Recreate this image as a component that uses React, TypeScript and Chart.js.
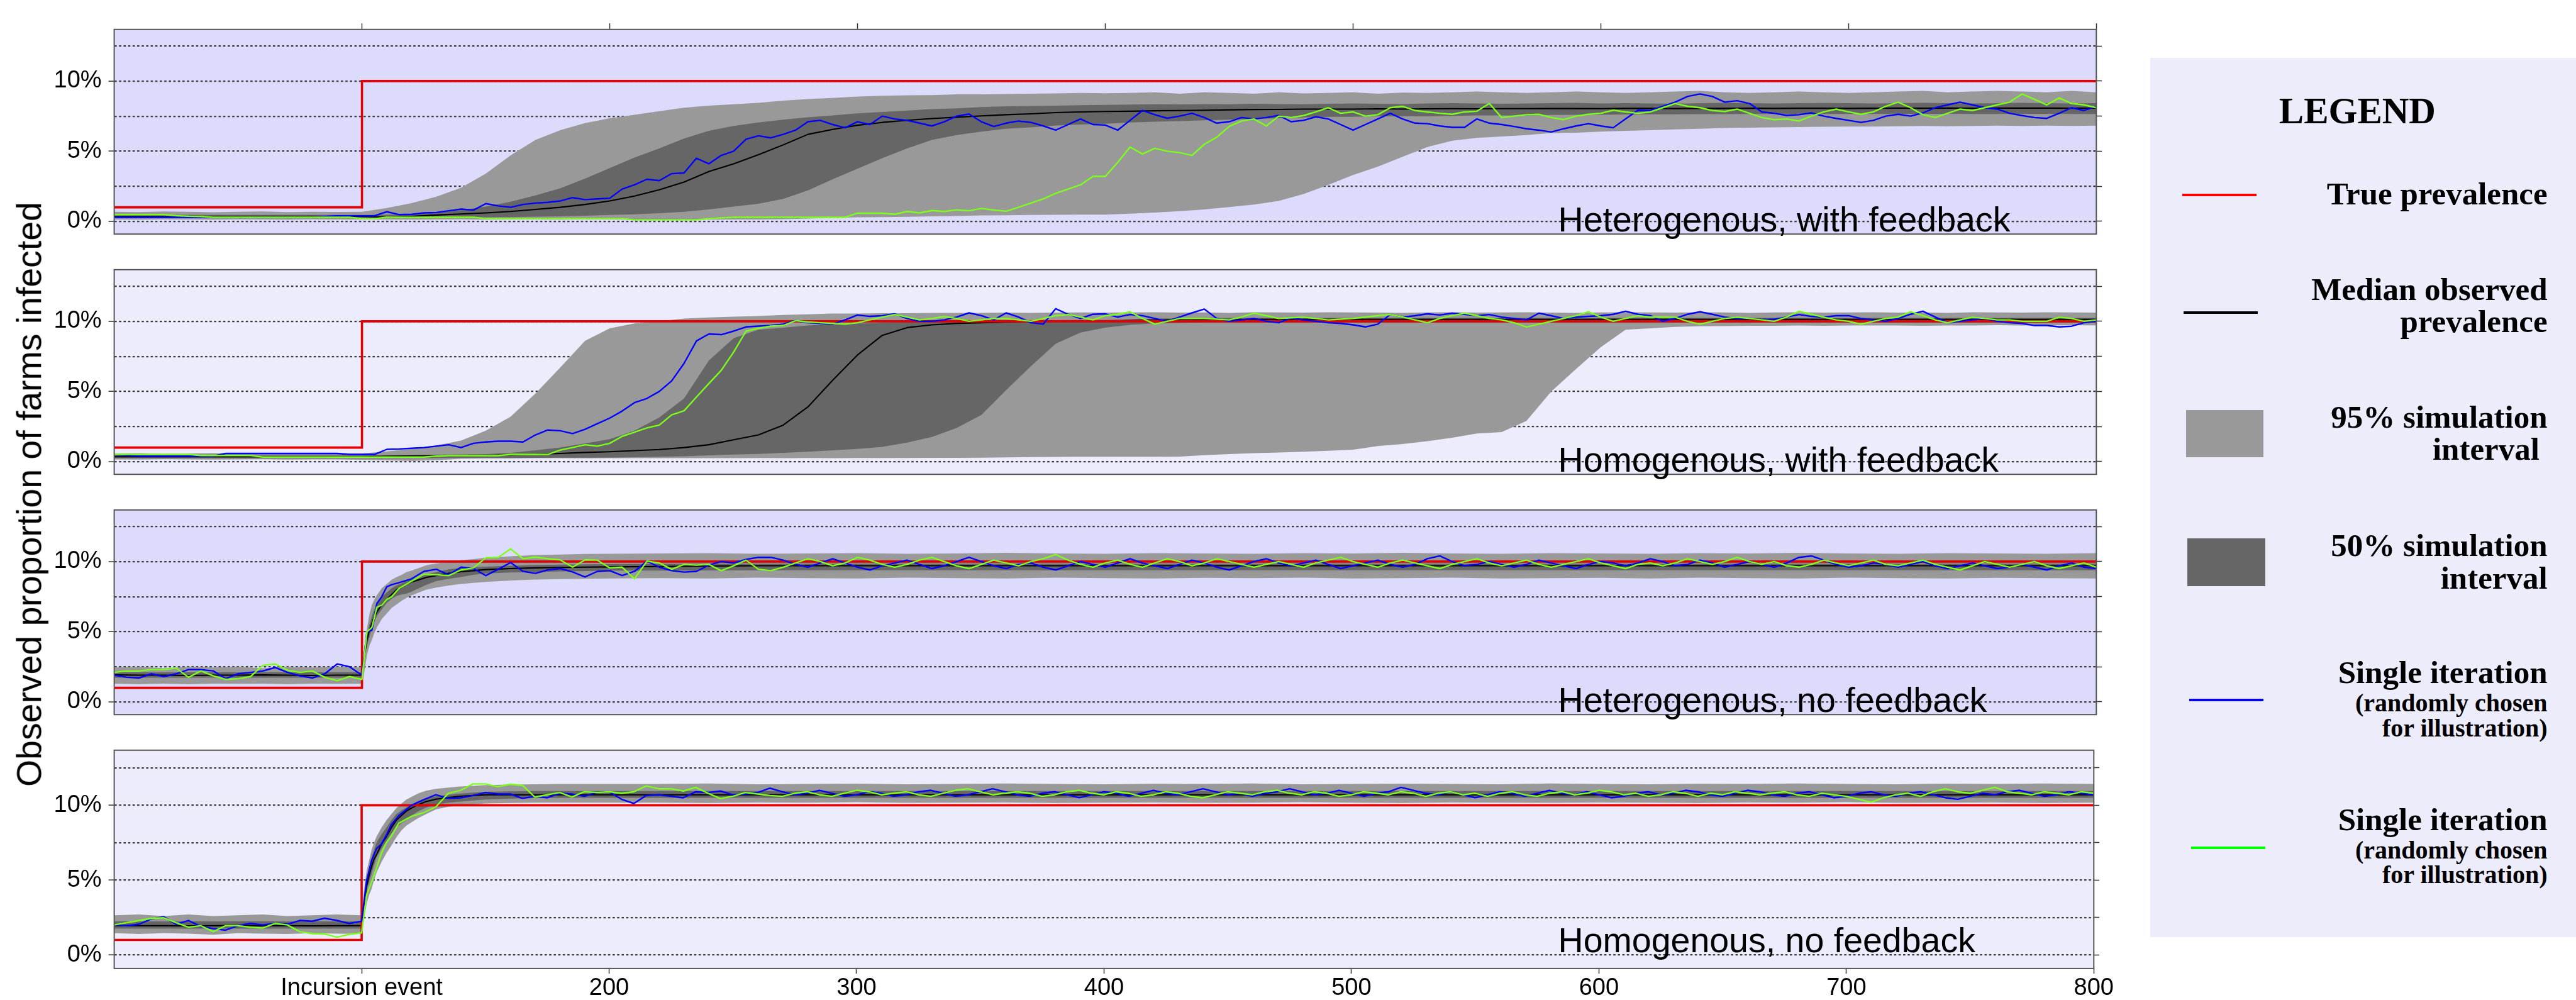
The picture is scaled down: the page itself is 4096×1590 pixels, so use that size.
import React, { useEffect, useRef } from 'react';
import { Chart, registerables } from 'chart.js';

Chart.register(...registerables);

// ---------------- data ----------------
const X_TICKS = [100, 200, 300, 400, 500, 600, 700, 800];
const Y_TICKS = [0, 2.5, 5, 7.5, 10, 12.5];
const X_MIN = 0;
const X_MAX = 800;
const Y_MIN = -0.91;
const Y_MAX = 13.68;
const TRUE_X = [0, 100, 100, 800];
const TRUE_Y = [1, 1, 10, 10];
const PANEL_TITLES = [
  'Heterogenous, with feedback',
  'Homogenous, with feedback',
  'Heterogenous, no feedback',
  'Homogenous, no feedback',
];

// band grid for panels 1-2
const GRID_A = [0, 10, 20, 30, 40, 50, 60, 70, 80, 90, 100,
  110, 120, 130, 140, 150, 160, 170, 180, 190, 200,
  210, 220, 230, 240, 250, 260, 270, 280, 290, 300,
  310, 320, 330, 340, 350, 360, 370, 380, 390, 400,
  410, 420, 430, 440, 450, 460, 470, 480, 490, 500,
  510, 520, 530, 540, 550, 560, 570, 580, 590, 600,
  610, 620, 630, 640, 650, 660, 670, 680, 690, 700,
  710, 720, 730, 740, 750, 760, 770, 780, 790, 800];

// line grid for panels 1-2
const LINE_X_A = [0, 5, 10, 15, 20, 25, 30, 35, 40, 45,
  50, 55, 60, 65, 70, 75, 80, 85, 90, 95,
  100, 105, 110, 115, 120, 125, 130, 135, 140, 145,
  150, 155, 160, 165, 170, 175, 180, 185, 190, 195,
  200, 205, 210, 215, 220, 225, 230, 235, 240, 245,
  250, 255, 260, 265, 270, 275, 280, 285, 290, 295,
  300, 305, 310, 315, 320, 325, 330, 335, 340, 345,
  350, 355, 360, 365, 370, 375, 380, 385, 390, 395,
  400, 405, 410, 415, 420, 425, 430, 435, 440, 445,
  450, 455, 460, 465, 470, 475, 480, 485, 490, 495,
  500, 505, 510, 515, 520, 525, 530, 535, 540, 545,
  550, 555, 560, 565, 570, 575, 580, 585, 590, 595,
  600, 605, 610, 615, 620, 625, 630, 635, 640, 645,
  650, 655, 660, 665, 670, 675, 680, 685, 690, 695,
  700, 705, 710, 715, 720, 725, 730, 735, 740, 745,
  750, 755, 760, 765, 770, 775, 780, 785, 790, 795,
  800];

// band grid for panels 3-4
const GRID_B = [0, 10, 20, 30, 40, 50, 60, 70, 80, 90, 100,
  101, 102, 103, 104, 105, 106, 108, 110, 112, 114, 116, 118, 120,
  123, 126, 130, 135, 140, 145, 150, 160, 170, 180, 190, 200,
  220, 240, 260, 280, 300, 320, 340, 360, 380, 400,
  420, 440, 460, 480, 500, 520, 540, 560, 580, 600,
  620, 640, 660, 680, 700, 720, 740, 760, 780, 800];

// line grid for panels 3-4
const LINE_X_B = [0, 5, 10, 15, 20, 25, 30, 35, 40, 45, 50, 55, 60, 65, 70, 75, 80, 85, 90, 95, 100,
  102, 104, 106, 108, 110, 112,
  115, 120, 125, 130, 135, 140, 145, 150, 155, 160,
  165, 170, 175, 180, 185, 190, 195, 200, 205, 210,
  215, 220, 225, 230, 235, 240, 245, 250, 255, 260,
  265, 270, 275, 280, 285, 290, 295, 300, 305, 310,
  315, 320, 325, 330, 335, 340, 345, 350, 355, 360,
  365, 370, 375, 380, 385, 390, 395, 400, 405, 410,
  415, 420, 425, 430, 435, 440, 445, 450, 455, 460,
  465, 470, 475, 480, 485, 490, 495, 500, 505, 510,
  515, 520, 525, 530, 535, 540, 545, 550, 555, 560,
  565, 570, 575, 580, 585, 590, 595, 600, 605, 610,
  615, 620, 625, 630, 635, 640, 645, 650, 655, 660,
  665, 670, 675, 680, 685, 690, 695, 700, 705, 710,
  715, 720, 725, 730, 735, 740, 745, 750, 755, 760,
  765, 770, 775, 780, 785, 790, 795, 800];

// ---- Panel 1: Heterogenous, with feedback ----
const P1_LO95 = [0.13, 0.12, 0.14, 0.13, 0.12, 0.14, 0.13, 0.12, 0.14, 0.13, 0.13,
  0.13, 0.12, 0.13, 0.14, 0.12, 0.13, 0.13, 0.12, 0.14, 0.13,
  0.12, 0.13, 0.14, 0.12, 0.13, 0.13, 0.15, 0.2, 0.25, 0.29,
  0.3, 0.32, 0.35, 0.38, 0.42, 0.43, 0.45, 0.47, 0.48, 0.48,
  0.55, 0.62, 0.72, 0.85, 1.02, 1.2, 1.45, 1.95, 2.6, 3.3,
  3.9, 4.6, 5.3, 5.75, 5.95, 6.05, 6.15, 6.3, 6.32, 6.4,
  6.45, 6.5, 6.55, 6.6, 6.65, 6.68, 6.7, 6.72, 6.74, 6.75,
  6.76, 6.78, 6.8, 6.78, 6.8, 6.82, 6.8, 6.82, 6.8, 6.82];
const P1_HI95 = [0.68, 0.66, 0.7, 0.68, 0.65, 0.68, 0.7, 0.66, 0.68, 0.67, 0.68,
  0.95, 1.3, 1.75, 2.4, 3.4, 4.7, 5.8, 6.5, 7.0, 7.35,
  7.6, 7.85, 8.1, 8.25, 8.35, 8.45, 8.6, 8.72, 8.8, 8.9,
  8.95, 8.98, 9.0, 9.05, 9.05, 9.08, 9.1, 9.12, 9.15, 9.13,
  9.15, 9.2, 9.1, 9.2, 9.15, 9.1, 9.2, 9.12, 9.15, 9.2,
  9.1, 9.18, 9.15, 9.2, 9.25, 9.2, 9.15, 9.2, 9.25, 9.2,
  9.15, 9.2, 9.25, 9.3, 9.2, 9.15, 9.2, 9.25, 9.2, 9.15,
  9.2, 9.25, 9.3, 9.2, 9.25, 9.3, 9.25, 9.2, 9.3, 9.2];
const P1_LO50 = [0.24, 0.24, 0.24, 0.24, 0.24, 0.24, 0.24, 0.24, 0.24, 0.24, 0.24,
  0.25, 0.26, 0.27, 0.28, 0.29, 0.3, 0.33, 0.36, 0.4, 0.45,
  0.5, 0.58, 0.68, 0.85, 1.05, 1.25, 1.6, 2.2, 3.0, 3.75,
  4.5, 5.2, 5.8, 6.15, 6.4, 6.6, 6.7, 6.83, 6.9, 6.96,
  7.05, 7.1, 7.15, 7.2, 7.25, 7.3, 7.35, 7.4, 7.45, 7.45,
  7.5, 7.5, 7.5, 7.52, 7.55, 7.55, 7.55, 7.58, 7.6, 7.6,
  7.62, 7.63, 7.63, 7.64, 7.64, 7.65, 7.65, 7.65, 7.65, 7.65,
  7.65, 7.66, 7.66, 7.66, 7.65, 7.65, 7.66, 7.66, 7.65, 7.65];
const P1_HI50 = [0.45, 0.45, 0.45, 0.45, 0.45, 0.45, 0.45, 0.45, 0.45, 0.45, 0.45,
  0.47, 0.5, 0.6, 0.8, 1.05, 1.4, 1.85, 2.35, 3.05, 3.8,
  4.55, 5.2, 5.9, 6.45, 6.8, 7.05, 7.25, 7.42, 7.55, 7.7,
  7.8, 7.9, 8.0, 8.05, 8.15, 8.2, 8.22, 8.25, 8.28, 8.3,
  8.32, 8.35, 8.33, 8.36, 8.35, 8.38, 8.36, 8.35, 8.38, 8.4,
  8.38, 8.36, 8.4, 8.42, 8.4, 8.38, 8.4, 8.42, 8.45, 8.4,
  8.42, 8.4, 8.38, 8.42, 8.45, 8.42, 8.4, 8.42, 8.44, 8.42,
  8.4, 8.42, 8.45, 8.42, 8.4, 8.43, 8.45, 8.42, 8.4, 8.42];
const P1_MED = [0.34, 0.34, 0.34, 0.34, 0.34, 0.34, 0.34, 0.34, 0.34, 0.34, 0.34,
  0.29, 0.35, 0.45, 0.52, 0.6, 0.7, 0.85, 1.0, 1.2, 1.45,
  1.8, 2.25, 2.8, 3.55, 4.1, 4.75, 5.45, 6.2, 6.55, 6.85,
  7.05, 7.2, 7.33, 7.42, 7.52, 7.6, 7.66, 7.75, 7.8, 7.83,
  7.85, 7.88, 7.9, 7.92, 7.95, 7.97, 7.98, 8.0, 8.0, 8.0,
  8.02, 8.0, 8.02, 8.03, 8.02, 8.03, 8.03, 8.04, 8.04, 8.03,
  8.05, 8.05, 8.04, 8.05, 8.05, 8.06, 8.05, 8.06, 8.06, 8.05,
  8.06, 8.07, 8.06, 8.07, 8.06, 8.07, 8.07, 8.07, 8.06, 8.07];
const P1_BLUE = [0.29, 0.29, 0.29, 0.29, 0.29, 0.29, 0.29, 0.29, 0.29, 0.29,
  0.29, 0.29, 0.29, 0.29, 0.29, 0.29, 0.29, 0.35, 0.39, 0.39,
  0.39, 0.39, 0.68, 0.48, 0.5, 0.6, 0.63, 0.75, 0.87, 0.8,
  1.26, 1.1, 1.0, 1.2, 1.3, 1.35, 1.45, 1.69, 1.55, 1.6,
  1.65, 2.3, 2.6, 3.0, 2.9, 3.4, 3.45, 4.5, 4.1, 4.7,
  5.0, 5.85, 6.1, 5.95, 6.2, 6.5, 7.1, 7.2, 6.9, 6.67,
  7.1, 6.9, 7.5, 7.3, 7.2, 7.0, 6.8, 7.1, 7.5, 7.65,
  7.1, 6.76, 7.0, 7.15, 7.05, 6.8, 6.5, 6.9, 7.3, 6.9,
  6.86, 6.5, 7.2, 7.9, 7.6, 7.35, 7.5, 7.7, 7.4, 7.0,
  7.1, 7.4, 7.3, 7.4, 7.55, 7.1, 7.2, 7.45, 7.3, 6.9,
  6.5, 6.9, 7.3, 7.7, 7.3, 7.0, 6.96, 6.8, 6.7, 6.7,
  7.3, 7.0, 6.9, 6.76, 6.6, 6.5, 6.37, 6.6, 6.8, 6.96,
  6.8, 6.67, 7.3, 7.92, 7.9, 8.2, 8.5, 8.9, 9.08, 8.9,
  8.5, 8.6, 8.4, 7.8, 7.7, 7.55, 7.6, 7.73, 7.5, 7.34,
  7.2, 7.05, 7.2, 7.5, 7.63, 7.5, 7.73, 8.1, 8.3, 8.5,
  8.3, 8.1, 8.0, 7.7, 7.54, 7.4, 7.34, 7.7, 8.1, 7.9,
  8.2];
const P1_GREEN = [0.48, 0.48, 0.48, 0.48, 0.48, 0.4, 0.36, 0.34, 0.29, 0.29,
  0.29, 0.29, 0.29, 0.29, 0.29, 0.29, 0.29, 0.29, 0.29, 0.29,
  0.19, 0.19, 0.29, 0.29, 0.29, 0.29, 0.29, 0.29, 0.29, 0.29,
  0.19, 0.19, 0.19, 0.19, 0.19, 0.19, 0.19, 0.19, 0.19, 0.19,
  0.19, 0.19, 0.1, 0.1, 0.1, 0.1, 0.1, 0.1, 0.19, 0.25,
  0.29, 0.29, 0.29, 0.29, 0.29, 0.29, 0.29, 0.29, 0.29, 0.29,
  0.58, 0.58, 0.58, 0.5, 0.7, 0.6, 0.77, 0.7, 0.82, 0.75,
  0.92, 0.8, 0.72, 1.0, 1.3, 1.6, 2.0, 2.3, 2.6, 3.2,
  3.2, 4.2, 5.3, 4.8, 5.2, 5.0, 4.9, 4.7, 5.5, 6.0,
  6.76, 7.15, 7.3, 6.8, 7.5, 7.4, 7.54, 7.8, 8.1, 7.7,
  7.8, 7.5, 7.6, 8.1, 8.2, 7.9, 7.8, 7.7, 7.63, 7.8,
  7.85, 8.4, 7.4, 7.5, 7.6, 7.63, 7.4, 7.25, 7.5, 7.63,
  7.7, 7.92, 7.8, 7.7, 7.8, 8.1, 8.4, 8.2, 8.1, 7.9,
  7.83, 8.0, 7.7, 7.4, 7.25, 7.3, 7.15, 7.5, 7.8, 8.0,
  7.8, 7.63, 7.8, 8.2, 8.5, 8.1, 7.6, 7.4, 7.7, 8.0,
  7.9, 8.1, 8.3, 8.5, 9.08, 8.7, 8.3, 8.8, 8.4, 8.3,
  8.1];

// ---- Panel 2: Homogenous, with feedback ----
const P2_LO95 = [0.15, 0.14, 0.16, 0.15, 0.14, 0.15, 0.16, 0.14, 0.15, 0.15, 0.12,
  0.08, 0.05, 0.1, 0.2, 0.22, 0.22, 0.24, 0.24, 0.23, 0.24,
  0.24, 0.24, 0.24, 0.24, 0.24, 0.25, 0.24, 0.25, 0.24, 0.25,
  0.25, 0.25, 0.26, 0.26, 0.28, 0.3, 0.32, 0.33, 0.34, 0.34,
  0.34, 0.34, 0.36, 0.45, 0.53, 0.6, 0.65, 0.7, 0.77, 0.85,
  1.1, 1.25, 1.45, 1.7, 2.0, 2.1, 2.9, 5.0, 6.6, 8.16,
  9.4, 9.5, 9.6, 9.65, 9.66, 9.68, 9.68, 9.7, 9.68, 9.7,
  9.7, 9.7, 9.68, 9.7, 9.7, 9.72, 9.7, 9.7, 9.72, 9.7];
const P2_HI95 = [0.58, 0.6, 0.56, 0.58, 0.6, 0.58, 0.56, 0.58, 0.6, 0.58, 0.58,
  0.72, 0.9, 1.15, 1.5, 2.2, 3.2, 4.85, 6.7, 8.6, 9.5,
  9.85, 10.02, 10.2, 10.28, 10.33, 10.38, 10.45, 10.5, 10.55, 10.55,
  10.58, 10.58, 10.6, 10.6, 10.6, 10.62, 10.6, 10.62, 10.63, 10.62,
  10.63, 10.65, 10.62, 10.63, 10.6, 10.65, 10.63, 10.62, 10.65, 10.63,
  10.62, 10.6, 10.63, 10.65, 10.62, 10.63, 10.65, 10.62, 10.6, 10.63,
  10.65, 10.63, 10.62, 10.65, 10.63, 10.6, 10.63, 10.65, 10.62, 10.63,
  10.65, 10.62, 10.63, 10.6, 10.65, 10.63, 10.62, 10.65, 10.63, 10.62];
const P2_LO50 = [0.24, 0.24, 0.24, 0.24, 0.24, 0.24, 0.24, 0.24, 0.24, 0.24, 0.24,
  0.24, 0.25, 0.25, 0.26, 0.26, 0.27, 0.27, 0.28, 0.28, 0.29,
  0.31, 0.34, 0.38, 0.44, 0.5, 0.55, 0.62, 0.7, 0.8, 0.9,
  1.05, 1.35, 1.75, 2.4, 3.33, 5.1, 6.8, 8.4, 9.2, 9.55,
  9.75, 9.85, 9.88, 9.9, 9.9, 9.9, 9.9, 9.9, 9.9, 9.9,
  9.9, 9.9, 9.9, 9.9, 9.9, 9.9, 9.9, 9.9, 9.9, 9.9,
  9.9, 9.9, 9.9, 9.9, 9.9, 9.9, 9.9, 9.9, 9.9, 9.9,
  9.9, 9.9, 9.9, 9.9, 9.9, 9.9, 9.9, 9.9, 9.9, 9.9];
const P2_HI50 = [0.43, 0.43, 0.43, 0.43, 0.43, 0.43, 0.43, 0.43, 0.43, 0.43, 0.43,
  0.45, 0.47, 0.49, 0.51, 0.53, 0.62, 0.8, 1.0, 1.3, 1.6,
  2.2, 3.15, 4.5, 7.2, 8.8, 9.4, 9.55, 9.7, 9.78, 9.85,
  9.9, 9.95, 9.98, 10.0, 10.03, 10.05, 10.07, 10.08, 10.09, 10.1,
  10.15, 10.2, 10.22, 10.24, 10.24, 10.24, 10.24, 10.24, 10.24, 10.24,
  10.24, 10.24, 10.24, 10.24, 10.24, 10.24, 10.24, 10.24, 10.24, 10.24,
  10.24, 10.24, 10.24, 10.24, 10.24, 10.24, 10.24, 10.24, 10.24, 10.24,
  10.24, 10.24, 10.24, 10.24, 10.24, 10.24, 10.24, 10.24, 10.24, 10.24];
const P2_MED = [0.34, 0.34, 0.34, 0.34, 0.34, 0.34, 0.34, 0.34, 0.34, 0.34, 0.34,
  0.38, 0.4, 0.41, 0.42, 0.43, 0.48, 0.53, 0.58, 0.65, 0.7,
  0.78, 0.86, 1.0, 1.2, 1.55, 1.9, 2.6, 3.9, 5.8, 7.6,
  9.0, 9.55, 9.75, 9.85, 9.9, 9.95, 9.98, 10.0, 10.0, 10.02,
  10.05, 10.08, 10.1, 10.12, 10.13, 10.14, 10.14, 10.14, 10.14, 10.14,
  10.14, 10.14, 10.14, 10.14, 10.14, 10.14, 10.14, 10.14, 10.14, 10.14,
  10.14, 10.14, 10.14, 10.14, 10.14, 10.14, 10.14, 10.14, 10.14, 10.14,
  10.14, 10.14, 10.14, 10.14, 10.14, 10.14, 10.14, 10.14, 10.14, 10.14];
const P2_BLUE = [0.48, 0.45, 0.39, 0.39, 0.39, 0.39, 0.39, 0.39, 0.39, 0.58,
  0.58, 0.58, 0.58, 0.58, 0.58, 0.58, 0.58, 0.58, 0.58, 0.51,
  0.51, 0.51, 0.87, 0.9, 0.95, 1.0, 1.1, 1.2, 1.0, 1.3,
  1.4, 1.45, 1.45, 1.4, 1.9, 2.25, 2.2, 2.0, 2.3, 2.7,
  3.1, 3.6, 4.2, 4.5, 5.0, 5.75, 7.0, 8.6, 9.1, 9.05,
  9.3, 9.6, 9.66, 9.7, 9.8, 10.05, 9.9, 9.85, 9.8, 10.1,
  10.45, 10.35, 10.4, 10.53, 10.2, 10.0, 10.0, 10.1, 10.3, 10.6,
  10.4, 10.1, 10.6, 10.3, 9.9, 9.8, 10.9, 10.5, 10.2, 10.5,
  10.53, 10.3, 10.48, 10.4, 10.2, 10.0, 10.3, 10.6, 10.87, 10.2,
  10.0, 10.1, 10.2, 10.0, 9.9, 10.24, 10.1, 10.0, 9.9, 9.85,
  9.75, 9.6, 9.8, 10.48, 10.3, 10.4, 10.53, 10.45, 10.58, 10.5,
  10.4, 10.48, 10.3, 10.2, 10.1, 10.58, 10.4, 10.2, 10.3, 10.35,
  10.4, 10.5, 10.72, 10.5, 10.4, 10.0, 10.2, 10.5, 10.68, 10.5,
  10.3, 10.2, 10.2, 10.1, 10.14, 10.3, 10.48, 10.35, 10.3, 10.4,
  10.4, 10.2, 10.1, 10.0, 10.2, 10.5, 10.72, 10.3, 9.9, 10.0,
  10.1, 10.2, 10.0, 9.9, 9.85, 9.7, 9.7, 9.6, 9.65, 9.9,
  10.0];
const P2_GREEN = [0.51, 0.51, 0.51, 0.51, 0.51, 0.51, 0.51, 0.43, 0.43, 0.43,
  0.43, 0.43, 0.32, 0.32, 0.32, 0.32, 0.32, 0.32, 0.32, 0.32,
  0.32, 0.32, 0.32, 0.32, 0.32, 0.32, 0.39, 0.42, 0.42, 0.42,
  0.42, 0.42, 0.51, 0.51, 0.51, 0.51, 0.82, 1.0, 1.2, 1.1,
  1.3, 1.8, 2.1, 2.4, 2.6, 3.33, 3.62, 4.6, 5.56, 6.5,
  7.8, 9.3, 9.5, 9.66, 9.7, 10.05, 9.95, 9.9, 9.85, 9.8,
  9.9, 10.1, 10.3, 10.48, 10.3, 10.1, 10.2, 10.34, 10.2, 10.0,
  10.1, 10.2, 10.2, 10.1, 10.0, 10.2, 10.4, 10.48, 10.3, 10.1,
  10.4, 10.5, 10.68, 10.2, 9.8, 10.0, 10.2, 10.2, 10.2, 10.15,
  10.1, 10.3, 10.58, 10.4, 10.2, 10.25, 10.29, 10.2, 10.1, 10.15,
  10.2, 10.3, 10.4, 10.48, 10.3, 10.1, 9.9, 10.2, 10.4, 10.58,
  10.4, 10.2, 10.1, 9.9, 9.6, 9.8, 10.0, 10.2, 10.4, 10.68,
  10.3, 10.0, 10.2, 10.4, 10.3, 10.3, 10.29, 10.0, 9.8, 10.0,
  10.2, 10.29, 10.2, 10.1, 10.0, 10.3, 10.72, 10.5, 10.29, 10.1,
  10.0, 9.8, 10.0, 10.2, 10.3, 10.68, 10.4, 10.1, 9.9, 10.1,
  10.29, 10.2, 10.1, 10.1, 10.0, 10.0, 10.0, 10.29, 10.2, 10.0,
  10.1];

// ---- Panel 3: Heterogenous, no feedback ----
const P3_LO95 = [1.3, 1.25, 1.3, 1.25, 1.3, 1.28, 1.3, 1.25, 1.3, 1.28, 1.3,
  2.2, 3.3, 4.0, 4.4, 4.9, 5.3, 5.9, 6.3, 6.7, 6.95, 7.2, 7.42, 7.6,
  7.8, 8.0, 8.15, 8.29, 8.4, 8.48, 8.55, 8.65, 8.72, 8.75, 8.77, 8.8,
  8.82, 8.8, 8.85, 8.82, 8.8, 8.85, 8.82, 8.8, 8.85, 8.82,
  8.8, 8.84, 8.82, 8.85, 8.8, 8.82, 8.85, 8.8, 8.82, 8.84,
  8.8, 8.85, 8.82, 8.8, 8.85, 8.82, 8.8, 8.84, 8.82, 8.8];
const P3_HI95 = [2.45, 2.5, 2.4, 2.5, 2.45, 2.5, 2.4, 2.5, 2.45, 2.5, 2.45,
  3.9, 5.2, 6.26, 6.9, 7.3, 7.6, 8.1, 8.4, 8.7, 8.9, 9.05, 9.25, 9.35,
  9.55, 9.74, 9.86, 9.98, 10.1, 10.17, 10.28, 10.38, 10.46, 10.5, 10.54, 10.56,
  10.58, 10.6, 10.55, 10.58, 10.6, 10.56, 10.58, 10.62, 10.58, 10.55,
  10.6, 10.58, 10.56, 10.6, 10.58, 10.62, 10.58, 10.55, 10.6, 10.58,
  10.56, 10.6, 10.58, 10.62, 10.58, 10.56, 10.6, 10.58, 10.55, 10.6];
const P3_LO50 = [1.72, 1.72, 1.72, 1.72, 1.72, 1.72, 1.72, 1.72, 1.72, 1.72, 1.72,
  3.0, 4.0, 4.6, 5.2, 5.7, 6.1, 6.6, 7.05, 7.35, 7.55, 7.65, 7.72, 7.85,
  8.1, 8.35, 8.6, 8.77, 8.9, 9.05, 9.15, 9.22, 9.26, 9.3, 9.32, 9.35,
  9.36, 9.37, 9.38, 9.38, 9.38, 9.38, 9.38, 9.38, 9.38, 9.38,
  9.38, 9.38, 9.38, 9.38, 9.38, 9.38, 9.38, 9.38, 9.38, 9.38,
  9.38, 9.38, 9.38, 9.38, 9.38, 9.38, 9.38, 9.38, 9.38, 9.38];
const P3_HI50 = [2.1, 2.1, 2.1, 2.1, 2.1, 2.1, 2.1, 2.1, 2.1, 2.1, 2.1,
  3.5, 4.8, 5.5, 6.1, 6.6, 7.0, 7.5, 7.8, 8.1, 8.3, 8.45, 8.6, 8.75,
  8.9, 9.1, 9.25, 9.45, 9.55, 9.6, 9.64, 9.7, 9.75, 9.78, 9.8, 9.82,
  9.84, 9.85, 9.85, 9.85, 9.85, 9.85, 9.85, 9.85, 9.85, 9.85,
  9.85, 9.85, 9.85, 9.85, 9.85, 9.85, 9.85, 9.85, 9.85, 9.85,
  9.85, 9.85, 9.85, 9.85, 9.85, 9.85, 9.85, 9.85, 9.85, 9.85];
const P3_MED = [1.92, 1.9, 1.9, 1.88, 1.9, 1.9, 1.92, 1.9, 1.88, 1.9, 1.9,
  3.36, 4.4, 5.1, 5.6, 6.1, 6.4, 6.95, 7.3, 7.65, 8.0, 8.2, 8.4, 8.55,
  8.7, 8.87, 9.0, 9.16, 9.28, 9.35, 9.43, 9.5, 9.55, 9.58, 9.6, 9.62,
  9.65, 9.68, 9.7, 9.7, 9.7, 9.7, 9.7, 9.7, 9.7, 9.7,
  9.7, 9.7, 9.7, 9.7, 9.7, 9.7, 9.7, 9.7, 9.7, 9.7,
  9.7, 9.7, 9.7, 9.7, 9.7, 9.7, 9.7, 9.7, 9.7, 9.7];
const P3_BLUE = [1.9, 1.75, 1.7, 2.0, 1.8, 2.0, 2.3, 2.3, 2.2, 1.65, 2.0, 2.1, 2.2, 2.45, 2.1, 1.85, 1.7, 2.0, 2.7, 2.5, 1.9,
  5.0, 5.1, 7.0, 7.5, 8.2, 8.35,
  8.5, 8.77, 9.3, 9.45, 9.06, 9.6, 9.5, 9.0, 9.45, 9.93,
  9.3, 9.16, 9.4, 9.5, 9.26, 8.9, 9.3, 9.35, 9.0, 9.3,
  10.03, 9.6, 9.35, 9.25, 9.3, 9.75, 10.0, 9.9, 10.15, 10.3,
  10.3, 10.1, 9.8, 9.6, 9.9, 10.2, 9.9, 9.6, 9.4, 9.7,
  9.9, 10.1, 9.8, 9.5, 9.7, 10.0, 10.3, 10.0, 9.7, 9.5,
  9.8, 9.9, 9.6, 9.4, 9.7, 10.0, 9.8, 9.6, 9.9, 10.2,
  9.9, 9.7, 9.5, 9.8, 10.1, 9.9, 9.6, 9.4, 9.7, 10.0,
  10.2, 9.9, 9.7, 9.9, 10.1, 9.8, 9.5, 9.7, 9.9, 10.1,
  9.8, 9.6, 9.8, 10.2, 10.4, 10.0, 9.7, 9.8, 10.0, 9.8,
  9.6, 9.8, 10.1, 9.9, 9.7, 9.5, 9.8, 10.0, 9.9, 9.7,
  9.9, 10.2, 10.0, 9.7, 9.8, 10.1, 9.9, 9.6, 9.8, 10.0,
  9.8, 9.6, 9.9, 10.3, 10.4, 10.1, 9.8, 9.6, 9.7, 9.9,
  9.8, 9.6, 9.8, 10.0, 9.7, 9.5, 9.7, 9.9, 9.7, 9.5,
  9.6, 9.8, 9.6, 9.4, 9.7, 9.9, 9.6, 9.5];
const P3_GREEN = [2.1, 2.2, 2.2, 2.3, 2.3, 2.4, 1.75, 2.2, 1.85, 1.6, 1.65, 1.8, 2.6, 2.7, 2.25, 2.1, 2.2, 1.75, 1.5, 1.8, 1.6,
  5.0, 5.3, 6.74, 6.9, 7.3, 7.5,
  8.1, 8.6, 9.1, 9.06, 9.0, 9.4, 9.55, 10.27, 10.3, 10.9,
  10.2, 10.32, 10.2, 10.12, 9.6, 10.12, 10.1, 9.55, 9.6, 8.77,
  10.03, 9.9, 9.45, 9.8, 9.74, 9.8, 9.35, 9.7, 10.1, 9.45,
  9.35, 9.6, 9.9, 10.2, 10.0, 9.7, 9.9, 10.3, 10.1, 9.8,
  9.6, 9.8, 10.1, 10.3, 10.0, 9.7, 9.5, 9.8, 10.1, 9.9,
  9.7, 10.0, 10.2, 10.5, 10.1, 9.8, 9.6, 9.9, 10.1, 9.8,
  9.6, 9.9, 10.2, 10.0, 9.7, 9.9, 10.2, 10.0, 9.8, 9.6,
  9.8, 10.0, 9.8, 9.6, 9.9, 10.1, 10.3, 10.0, 9.8, 9.6,
  9.9, 10.1, 9.9, 9.7, 9.5, 9.8, 10.0, 10.2, 9.9, 9.7,
  9.9, 10.1, 9.8, 9.6, 9.8, 10.0, 10.2, 9.9, 9.7, 9.5,
  9.8, 9.9, 9.7, 9.9, 10.2, 10.0, 9.8, 10.0, 10.3, 10.0,
  9.8, 10.0, 9.7, 9.6, 9.8, 10.1, 9.9, 9.7, 9.9, 10.1,
  9.8, 9.7, 9.9, 10.1, 9.8, 9.6, 9.4, 9.7, 10.0, 9.8,
  9.6, 9.8, 10.0, 9.7, 9.5, 9.7, 9.9, 9.6];

// ---- Panel 4: Homogenous, no feedback ----
const P4_LO95 = [1.45, 1.4, 1.45, 1.42, 1.35, 1.45, 1.42, 1.4, 1.45, 1.42, 1.4,
  2.44, 3.4, 4.0, 4.4, 5.0, 5.5, 6.2, 6.8, 7.3, 7.85, 8.3, 8.63, 8.85,
  9.15, 9.4, 9.72, 9.9, 10.0, 10.06, 10.12, 10.15, 10.17, 10.17, 10.17, 10.17,
  10.17, 10.15, 10.18, 10.17, 10.2, 10.16, 10.17, 10.18, 10.15, 10.17,
  10.18, 10.16, 10.17, 10.2, 10.17, 10.15, 10.18, 10.17, 10.16, 10.18,
  10.17, 10.15, 10.18, 10.17, 10.2, 10.16, 10.17, 10.18, 10.15, 10.17];
const P4_HI95 = [2.65, 2.7, 2.6, 2.7, 2.6, 2.65, 2.7, 2.6, 2.65, 2.7, 2.65,
  4.4, 5.6, 6.3, 7.0, 7.5, 7.9, 8.5, 9.0, 9.4, 9.8, 10.1, 10.37, 10.55,
  10.8, 10.97, 11.1, 11.18, 11.25, 11.3, 11.35, 11.38, 11.4, 11.42, 11.42, 11.42,
  11.42, 11.45, 11.4, 11.42, 11.44, 11.4, 11.42, 11.45, 11.42, 11.4,
  11.43, 11.42, 11.45, 11.4, 11.42, 11.44, 11.42, 11.4, 11.45, 11.42,
  11.4, 11.43, 11.42, 11.45, 11.42, 11.4, 11.44, 11.42, 11.45, 11.42];
const P4_LO50 = [1.76, 1.76, 1.76, 1.76, 1.76, 1.76, 1.76, 1.76, 1.76, 1.76, 1.76,
  3.2, 4.3, 4.85, 5.4, 6.0, 6.5, 7.1, 7.6, 8.1, 8.5, 8.8, 9.0, 9.3,
  9.6, 9.85, 10.05, 10.17, 10.25, 10.32, 10.38, 10.45, 10.48, 10.5, 10.5, 10.5,
  10.5, 10.5, 10.5, 10.5, 10.5, 10.5, 10.5, 10.5, 10.5, 10.5,
  10.5, 10.5, 10.5, 10.5, 10.5, 10.5, 10.5, 10.5, 10.5, 10.5,
  10.5, 10.5, 10.5, 10.5, 10.5, 10.5, 10.5, 10.5, 10.5, 10.5];
const P4_HI50 = [2.24, 2.24, 2.24, 2.24, 2.24, 2.24, 2.24, 2.24, 2.24, 2.24, 2.24,
  3.8, 5.0, 5.8, 6.5, 7.0, 7.5, 8.05, 8.5, 9.0, 9.4, 9.65, 9.85, 10.05,
  10.3, 10.45, 10.6, 10.7, 10.78, 10.85, 10.9, 10.93, 10.95, 10.95, 10.95, 10.95,
  10.95, 10.95, 10.95, 10.95, 10.95, 10.95, 10.95, 10.95, 10.95, 10.95,
  10.95, 10.95, 10.95, 10.95, 10.95, 10.95, 10.95, 10.95, 10.95, 10.95,
  10.95, 10.95, 10.95, 10.95, 10.95, 10.95, 10.95, 10.95, 10.95, 10.95];
const P4_MED = [1.96, 1.95, 1.95, 1.94, 1.95, 1.96, 1.95, 1.95, 1.94, 1.95, 1.95,
  3.4, 4.6, 5.3, 5.9, 6.4, 6.7, 7.4, 7.9, 8.5, 9.0, 9.3, 9.6, 9.8,
  10.05, 10.25, 10.4, 10.52, 10.6, 10.65, 10.7, 10.7, 10.7, 10.7, 10.7, 10.7,
  10.7, 10.7, 10.7, 10.7, 10.7, 10.7, 10.7, 10.7, 10.7, 10.7,
  10.7, 10.7, 10.7, 10.7, 10.7, 10.7, 10.7, 10.7, 10.7, 10.7,
  10.7, 10.7, 10.7, 10.7, 10.7, 10.7, 10.7, 10.7, 10.7, 10.7];
const P4_BLUE = [2.0, 1.95, 2.05, 2.4, 2.55, 2.05, 2.3, 1.9, 1.75, 1.65, 1.95, 2.1, 2.0, 2.1, 2.05, 2.3, 2.25, 2.45, 2.3, 2.1, 2.25,
  4.95, 6.3, 7.1, 7.4, 8.0, 8.7,
  9.3, 9.98, 10.37, 10.7, 10.46, 10.5, 10.65, 10.85, 10.75, 10.75,
  10.46, 10.6, 10.5, 10.8, 10.75, 10.6, 10.85, 10.9, 10.4, 10.12,
  10.65, 10.7, 10.6, 10.5, 10.9, 10.85, 10.95, 10.7, 10.75, 10.85,
  11.14, 10.9, 10.7, 10.8, 11.0, 10.8, 10.6, 10.7, 10.9, 10.8,
  10.6, 10.7, 10.9, 11.0, 10.8, 10.6, 10.7, 10.9, 11.1, 10.9,
  10.7, 10.6, 10.8, 10.9, 10.7, 10.5, 10.7, 10.9, 10.8, 10.6,
  10.8, 11.0, 10.8, 10.7, 10.9, 11.1, 10.9, 10.7, 10.8, 10.6,
  10.8, 10.9, 11.1, 10.9, 10.7, 10.8, 11.0, 10.8, 10.6, 10.8,
  10.9, 11.2, 11.0, 10.8, 10.7, 10.9, 10.7, 10.5, 10.7, 10.9,
  10.8, 10.6, 10.8, 11.0, 10.8, 10.7, 10.9, 10.7, 10.5, 10.6,
  10.8, 10.9, 10.7, 10.8, 11.0, 10.9, 10.7, 10.6, 10.8, 11.0,
  10.9, 10.7, 10.6, 10.8, 10.9, 10.7, 10.5, 10.6, 10.8, 10.9,
  10.7, 10.6, 10.8, 10.9, 10.7, 10.5, 10.4, 10.6, 10.8, 10.7,
  10.9, 11.0, 10.8, 10.6, 10.7, 10.9, 10.8, 10.7];
const P4_GREEN = [2.0, 2.15, 2.29, 2.44, 2.48, 2.15, 1.85, 1.95, 1.55, 1.95, 1.95, 1.85, 1.8, 2.1, 2.0, 1.55, 1.42, 1.4, 1.18, 1.37, 1.47,
  4.0, 4.85, 5.8, 6.8, 7.5, 7.95,
  8.8, 9.25, 9.5, 9.9, 10.8, 11.0, 11.43, 11.43, 11.24, 11.4,
  11.33, 10.55, 10.7, 10.85, 10.56, 10.9, 10.85, 10.9, 10.8, 10.9,
  11.29, 11.1, 11.1, 10.95, 11.2, 10.8, 10.45, 10.6, 10.85, 10.75,
  10.65, 10.6, 10.8, 10.9, 10.7, 10.6, 10.8, 11.0, 10.9, 10.7,
  10.8, 10.9, 10.7, 10.6, 10.8, 11.0, 11.1, 10.9, 10.7, 10.8,
  10.9, 10.8, 10.6, 10.7, 10.9, 11.0, 10.8, 10.7, 10.9, 10.8,
  10.6, 10.7, 10.9, 10.8, 10.6, 10.5, 10.7, 10.9, 10.8, 10.7,
  10.9, 11.0, 10.8, 10.7, 10.9, 10.8, 10.6, 10.7, 10.9, 10.8,
  10.7, 10.9, 10.8, 10.6, 10.8, 10.9, 10.7, 10.8, 10.6, 10.8,
  10.9, 10.7, 10.6, 10.8, 10.9, 10.7, 10.8, 11.0, 10.9, 10.7,
  10.8, 10.6, 10.7, 10.9, 10.8, 10.6, 10.8, 10.7, 10.9, 10.8,
  10.7, 10.8, 10.9, 10.7, 10.6, 10.8, 10.7, 10.6, 10.4, 10.2,
  10.5, 10.7, 10.8, 10.6, 10.9, 11.1, 10.9, 10.8, 11.0, 11.2,
  10.9, 10.8, 10.7, 10.9, 10.8, 10.7, 10.9, 10.8];

// ---------------- styling / layout (scaled 0.693) ----------------
const W = 4096;
const H = 1590;
const PLOT_L = 181.6;
const PLOT_R = 3333.3;
const CANVAS_W = 3362;
const PANEL_TOPS = [33.3, 415.1, 797.6, 1179.5];
const PANEL_H = 360.4;
const SANS = "'Liberation Sans', Arial, Helvetica, sans-serif";
const SERIF = "'Liberation Serif', 'Times New Roman', Times, serif";
const BG_DARK = '#dcdbfc';
const BG_LIGHT = '#edecfc';
const LEGEND_BG = '#edecfb';
const RED = '#e30000';
const BLUE = '#0000ff';
const GREEN = '#7cff1a';

const PANELS = [
  { bandX: GRID_A, lineX: LINE_X_A, lo95: P1_LO95, hi95: P1_HI95, lo50: P1_LO50, hi50: P1_HI50, med: P1_MED, blue: P1_BLUE, green: P1_GREEN, bg: BG_DARK },
  { bandX: GRID_A, lineX: LINE_X_A, lo95: P2_LO95, hi95: P2_HI95, lo50: P2_LO50, hi50: P2_HI50, med: P2_MED, blue: P2_BLUE, green: P2_GREEN, bg: BG_LIGHT },
  { bandX: GRID_B, lineX: LINE_X_B, lo95: P3_LO95, hi95: P3_HI95, lo50: P3_LO50, hi50: P3_HI50, med: P3_MED, blue: P3_BLUE, green: P3_GREEN, bg: BG_DARK },
  { bandX: GRID_B, lineX: LINE_X_B, lo95: P4_LO95, hi95: P4_HI95, lo50: P4_LO50, hi50: P4_HI50, med: P4_MED, blue: P4_BLUE, green: P4_GREEN, bg: BG_LIGHT },
];

const panelDeco: any = {
  id: 'panelDeco',
  beforeDraw(chart: any, _args: any, opts: any) {
    const { ctx, chartArea: a } = chart;
    ctx.save();
    ctx.fillStyle = opts.bg;
    ctx.fillRect(a.left, a.top, a.right - a.left, a.bottom - a.top);
    ctx.restore();
  },
  afterDraw(chart: any, _args: any, opts: any) {
    const { ctx, chartArea: a } = chart;
    ctx.save();
    ctx.strokeStyle = '#555555';
    ctx.lineWidth = 2;
    ctx.strokeRect(a.left, a.top, a.right - a.left, a.bottom - a.top);
    ctx.fillStyle = '#000';
    ctx.font = `55.5px ${SANS}`;
    ctx.textBaseline = 'alphabetic';
    ctx.textAlign = 'left';
    ctx.fillText(opts.label, a.left + 2296, a.top + 321.6);
    ctx.restore();
  },
};

function series(xs: number[], ys: number[], color: string, width: number, extra: any = {}) {
  return {
    data: ys.map((y, i) => ({ x: xs[i], y })),
    borderColor: color,
    borderWidth: width,
    pointRadius: 0,
    pointHoverRadius: 0,
    fill: false,
    tension: 0,
    borderJoinStyle: 'round',
    ...extra,
  };
}

function Panel({ idx }: { idx: number }) {
  const ref = useRef<HTMLCanvasElement | null>(null);
  const top = PANEL_TOPS[idx];
  const hasTop = idx === 0;
  const hasBottom = idx === 3;
  const canvasTop = Math.floor(top - 20);
  const padTop = top - canvasTop;
  const wantBottom = hasBottom ? H - (top + PANEL_H) : 12;
  const canvasH = Math.ceil(padTop + PANEL_H + wantBottom);
  const padBottom = canvasH - padTop - PANEL_H;

  useEffect(() => {
    const d = PANELS[idx];
    const clear = 'rgba(0,0,0,0)';
    const yTickSetter = (s: any) => { s.ticks = Y_TICKS.map((v) => ({ value: v })); };
    const chart = new Chart(ref.current as HTMLCanvasElement, {
      type: 'line',
      data: {
        datasets: [
          series(d.lineX, d.green, GREEN, 2.4),
          series(d.lineX, d.blue, BLUE, 2.4),
          series(TRUE_X, TRUE_Y, RED, 3.6, { borderJoinStyle: 'miter' }),
          series(d.bandX, d.med, '#000000', 2.1),
          series(d.bandX, d.hi50, clear, 0, { fill: '+1', backgroundColor: '#666666' }),
          series(d.bandX, d.lo50, clear, 0),
          series(d.bandX, d.hi95, clear, 0, { fill: '+1', backgroundColor: '#999999' }),
          series(d.bandX, d.lo95, clear, 0),
        ] as any,
      },
      options: {
        animation: false,
        responsive: false,
        devicePixelRatio: 1,
        events: [],
        layout: {
          autoPadding: false,
          padding: { left: 0, right: 0, top: hasTop ? 0 : padTop, bottom: hasBottom ? 0 : padBottom },
        },
        plugins: {
          legend: { display: false },
          tooltip: { enabled: false },
          panelDeco: { bg: d.bg, label: PANEL_TITLES[idx] },
        } as any,
        scales: {
          x: {
            type: 'linear',
            min: X_MIN,
            max: X_MAX,
            display: hasTop || hasBottom,
            position: hasTop ? 'top' : 'bottom',
            afterBuildTicks: (s: any) => { s.ticks = X_TICKS.map((v) => ({ value: v })); },
            afterFit: (s: any) => { s.height = hasTop ? padTop : padBottom; },
            ticks: {
              display: hasBottom,
              autoSkip: false,
              maxRotation: 0,
              minRotation: 0,
              padding: 1,
              color: '#000',
              font: { family: SANS, size: 38 },
              callback: (v: any) => (v === 100 ? 'Incursion event' : String(v)),
            },
            grid: { drawOnChartArea: false, drawTicks: true, tickLength: hasTop ? 9.7 : 8.3, tickWidth: 1.5, tickColor: '#333', color: '#333' },
            border: { display: false },
          },
          y: {
            type: 'linear',
            position: 'left',
            min: Y_MIN,
            max: Y_MAX,
            afterBuildTicks: yTickSetter,
            afterFit: (s: any) => { s.width = PLOT_L; },
            ticks: {
              padding: 11,
              color: '#000',
              font: { family: SANS, size: 38 },
              callback: (v: any) => (Number(v) % 5 === 0 ? `${v}%` : ''),
            },
            grid: {
              color: '#3a3a3a',
              lineWidth: 2.2,
              drawTicks: true,
              tickLength: 9,
              tickWidth: 1.5,
              tickBorderDash: [],
              tickColor: (c: any) => (c.tick && c.tick.value % 5 === 0 ? '#333' : 'rgba(0,0,0,0)'),
            },
            border: { display: false, dash: [3.6, 3.6] },
          },
          yR: {
            type: 'linear',
            position: 'right',
            min: Y_MIN,
            max: Y_MAX,
            afterBuildTicks: yTickSetter,
            afterFit: (s: any) => { s.width = CANVAS_W - PLOT_R; },
            ticks: { display: false },
            grid: { drawOnChartArea: false, drawTicks: true, tickLength: 8.8, tickWidth: 1.5, tickColor: '#333', color: '#333' },
            border: { display: false },
          },
        },
      } as any,
      plugins: [panelDeco],
    });
    return () => chart.destroy();
  }, []);

  return (
    <canvas
      ref={ref}
      width={CANVAS_W}
      height={canvasH}
      style={{ position: 'absolute', left: 0, top: canvasTop, width: CANVAS_W, height: canvasH }}
    />
  );
}

const legendText = (text: string, top: number, size: number) => (
  <div
    key={text + top}
    style={{
      position: 'absolute', right: 45.4, top, fontFamily: SERIF, fontWeight: 'bold',
      fontSize: size, lineHeight: 1, whiteSpace: 'pre', textAlign: 'right', color: '#000',
    }}
  >
    {text}
  </div>
);

const bar = (left: number, top: number, width: number, height: number, color: string) => (
  <div style={{ position: 'absolute', left, top, width, height, background: color }} />
);

export default function App() {
  return (
    <div style={{ position: 'absolute', left: 0, top: 0, width: W, height: H, overflow: 'hidden', background: '#ffffff' }}>
      {[0, 1, 2, 3].map((i) => <Panel key={i} idx={i} />)}
      <div
        style={{
          position: 'absolute', left: 46.8, top: 786, transform: 'translate(-50%, -50%) rotate(-90deg)',
          whiteSpace: 'nowrap', fontFamily: SANS, fontSize: 55.4, lineHeight: 1, color: '#000',
        }}
      >
        Observed proportion of farms infected
      </div>
      <div style={{ position: 'absolute', left: 3419, top: 91.5, width: W - 3419, height: 1398.5, background: LEGEND_BG }} />
      <div
        style={{
          position: 'absolute', left: 3748.4, top: 146.7, transform: 'translateX(-50%)', fontFamily: SERIF,
          fontWeight: 'bold', fontSize: 59, lineHeight: 1, whiteSpace: 'nowrap', color: '#000',
        }}
      >
        LEGEND
      </div>
      {bar(3470, 308.2, 118, 4, '#ff0000')}
      {legendText('True prevalence', 283.3, 51)}
      {bar(3472, 494.9, 118, 4, '#000000')}
      {legendText('Median observed', 434.5, 51)}
      {legendText('prevalence', 485.9, 51)}
      {bar(3475.7, 652.2, 123.7, 75.2, '#999999')}
      {legendText('95% simulation', 637.6, 51)}
      {legendText('interval\u00a0', 689.1, 51)}
      {bar(3478, 856.2, 124, 75.9, '#666666')}
      {legendText('50% simulation', 842, 51)}
      {legendText('interval', 893.5, 51)}
      {bar(3481, 1111, 118, 4, '#0000ff')}
      {legendText('Single iteration', 1043.9, 51)}
      {legendText('(randomly chosen', 1098, 40)}
      {legendText('for illustration)', 1137.5, 40)}
      {bar(3484, 1345.7, 118, 4, '#00ff00')}
      {legendText('Single iteration', 1277.5, 51)}
      {legendText('(randomly chosen', 1331.7, 40)}
      {legendText('for illustration)', 1371.2, 40)}
    </div>
  );
}
